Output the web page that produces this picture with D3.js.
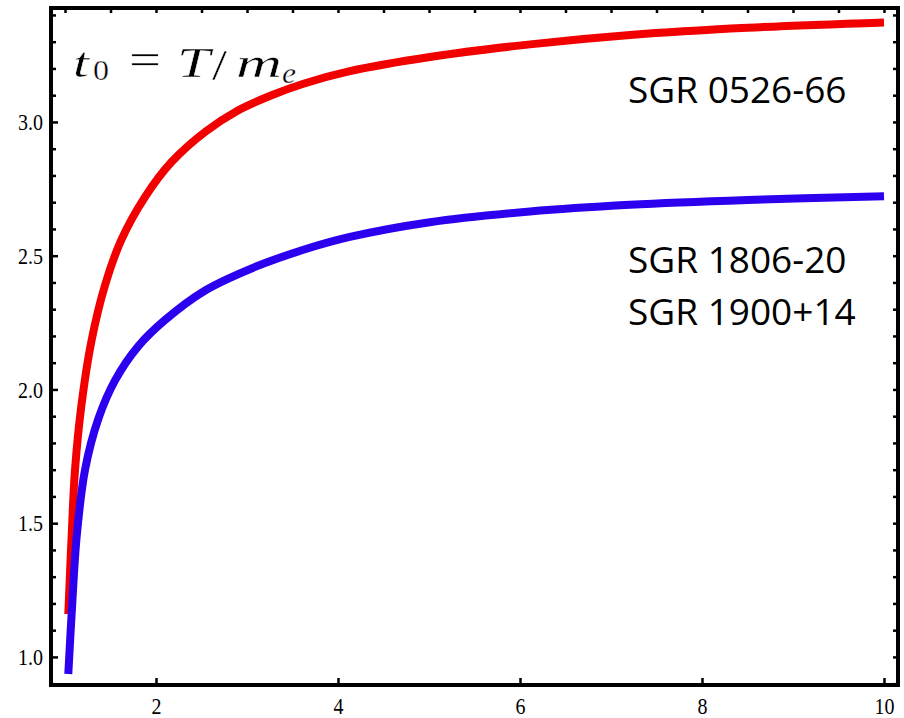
<!DOCTYPE html>
<html>
<head>
<meta charset="utf-8">
<script src="https://cdn.jsdelivr.net/npm/d3@7"></script>
<style>
  body { margin: 0; background: #fff; }
</style>
</head>
<body>
<div id="chart"></div>
<script>
// values
const redX  = [1.036, 1.074, 1.11, 1.18, 1.29, 1.44, 1.62, 1.88, 2.17, 2.54, 2.90, 3.27, 3.62, 4.13, 5.01, 6.11, 7.21, 8.50, 10.0];
const redY  = [1.16, 1.46, 1.70, 1.94, 2.18, 2.39, 2.56, 2.72, 2.85, 2.963, 3.043, 3.10, 3.143, 3.19, 3.243, 3.29, 3.325, 3.352, 3.372];
const blueX = [1.036, 1.074, 1.13, 1.22, 1.366, 1.55, 1.806, 2.10, 2.54, 3.09, 3.62, 4.13, 5.01, 6.11, 7.21, 8.50, 10.0];
const blueY = [0.936, 1.168, 1.457, 1.70, 1.89, 2.034, 2.162, 2.26, 2.37, 2.458, 2.522, 2.57, 2.625, 2.665, 2.69, 2.708, 2.722];

const xTicks = [2, 4, 6, 8, 10];
const xMinor = [1, 1.5, 2.5, 3, 3.5, 4.5, 5, 5.5, 6.5, 7, 7.5, 8.5, 9, 9.5];
const yTicks = [1.0, 1.5, 2.0, 2.5, 3.0];
const yMinor = [0.9, 1.1, 1.2, 1.3, 1.4, 1.6, 1.7, 1.8, 1.9, 2.1, 2.2, 2.3, 2.4, 2.6, 2.7, 2.8, 2.9, 3.1, 3.2, 3.3, 3.4];
const seriesLabels = ["SGR 0526-66", "SGR 1806-20", "SGR 1900+14"];

let width = 904, height = 718;
let margin = {top: 8, right: 6, bottom: 33, left: 51};

const svg = d3.select("#chart")
  .append("svg")
    .attr("width", width)
    .attr("height", height);

const x = d3.scaleLinear()
  .domain([0.846, 10.154])
  .range([margin.left, width - margin.right]);

const y = d3.scaleLinear()
  .domain([0.895, 3.426])
  .range([height - margin.bottom, margin.top]);

const line = d3.line()
  .x(function(d) { return x(d[0]); })
  .y(function(d) { return y(d[1]); })
  .curve(d3.curveCatmullRom.alpha(0.5));

// curves
svg.append("path")
  .datum(d3.zip(redX, redY))
  .attr("fill", "none")
  .attr("stroke", "#f20000")
  .attr("stroke-width", 8)
  .attr("d", line);

svg.append("path")
  .datum(d3.zip(blueX, blueY))
  .attr("fill", "none")
  .attr("stroke", "#2c00ee")
  .attr("stroke-width", 8)
  .attr("d", line);

// axes (ticks pointing inward)
function styleAxis(g) {
  g.select(".domain").remove();
  g.selectAll(".tick line").attr("stroke", "#000").attr("stroke-width", 2.5);
}

svg.append("g")
  .attr("transform", "translate(0," + (height - margin.bottom) + ")")
  .call(d3.axisBottom(x).tickValues(xTicks).tickSize(-7).tickFormat(d3.format("d")))
  .call(styleAxis)
  .selectAll("text")
    .attr("y", 0).attr("dy", "0.71em")
    .attr("transform", "translate(0,12) scale(1,1.2)")
    .style("font-family", "'Liberation Serif', serif")
    .style("font-size", "20px")
    .attr("fill", "#000");

svg.append("g")
  .attr("transform", "translate(" + margin.left + ",0)")
  .call(d3.axisLeft(y).tickValues(yTicks).tickSize(-7).tickPadding(8).tickFormat(d3.format(".1f")))
  .call(styleAxis)
  .selectAll("text")
    .attr("transform", "scale(1,1.2)")
    .style("font-family", "'Liberation Serif', serif")
    .style("font-size", "20px")
    .attr("fill", "#000");

svg.append("g")
  .attr("transform", "translate(" + margin.left + ",0)")
  .call(d3.axisLeft(y).tickValues(yMinor).tickSize(-5).tickFormat(""))
  .call(styleAxis);

svg.append("g")
  .attr("transform", "translate(0," + margin.top + ")")
  .call(d3.axisTop(x).tickValues(xTicks.concat(xMinor)).tickSize(-5).tickFormat(""))
  .call(styleAxis);

svg.append("g")
  .attr("transform", "translate(" + (width - margin.right) + ",0)")
  .call(d3.axisRight(y).tickValues(yTicks.concat(yMinor)).tickSize(-5).tickFormat(""))
  .call(styleAxis);

// frame
svg.append("rect")
  .attr("x", margin.left)
  .attr("y", margin.top)
  .attr("width", width - margin.left - margin.right)
  .attr("height", height - margin.top - margin.bottom)
  .attr("fill", "none")
  .attr("stroke", "#000")
  .attr("stroke-width", 4);

// series labels
const labelY = [103, 273, 325];
svg.selectAll(".serieslabel")
  .data(seriesLabels)
  .enter()
  .append("text")
    .attr("class", "serieslabel")
    .attr("x", 628)
    .attr("y", function(d, i) { return labelY[i]; })
    .style("font-family", "'Open Sans', sans-serif")
    .style("font-size", "37px")
    .attr("fill", "#000")
    .text(function(d) { return d; });

// formula t0 = T/me (faint white outline keeps the glyphs a little lighter)
const math = svg.append("g")
  .style("font-family", "'Liberation Serif', serif")
  .attr("fill", "#000")
  .attr("stroke", "#fff")
  .attr("stroke-width", 0.4)
  .attr("paint-order", "fill");
const pieces = [
  {t: "t", x: 73,  y: 77, s: 42, it: true,  w: 16},
  {t: "0", x: 93,  y: 80, s: 29, it: false, w: 16},
  {t: "=", x: 129, y: 74, s: 44, it: false, w: 32},
  {t: "T", x: 177, y: 77, s: 43, it: true,  w: 33},
  {t: "/", x: 212, y: 80, s: 44, it: false, w: 15},
  {t: "m", x: 236, y: 77, s: 43, it: true,  w: 46},
  {t: "e", x: 282, y: 83, s: 29, it: true,  w: 14}
];
pieces.forEach(function(p) {
  math.append("text")
    .attr("x", p.x)
    .attr("y", p.y)
    .attr("textLength", p.w)
    .attr("lengthAdjust", "spacingAndGlyphs")
    .style("font-size", p.s + "px")
    .style("font-style", p.it ? "italic" : "normal")
    .text(p.t);
});
</script>
</body>
</html>
